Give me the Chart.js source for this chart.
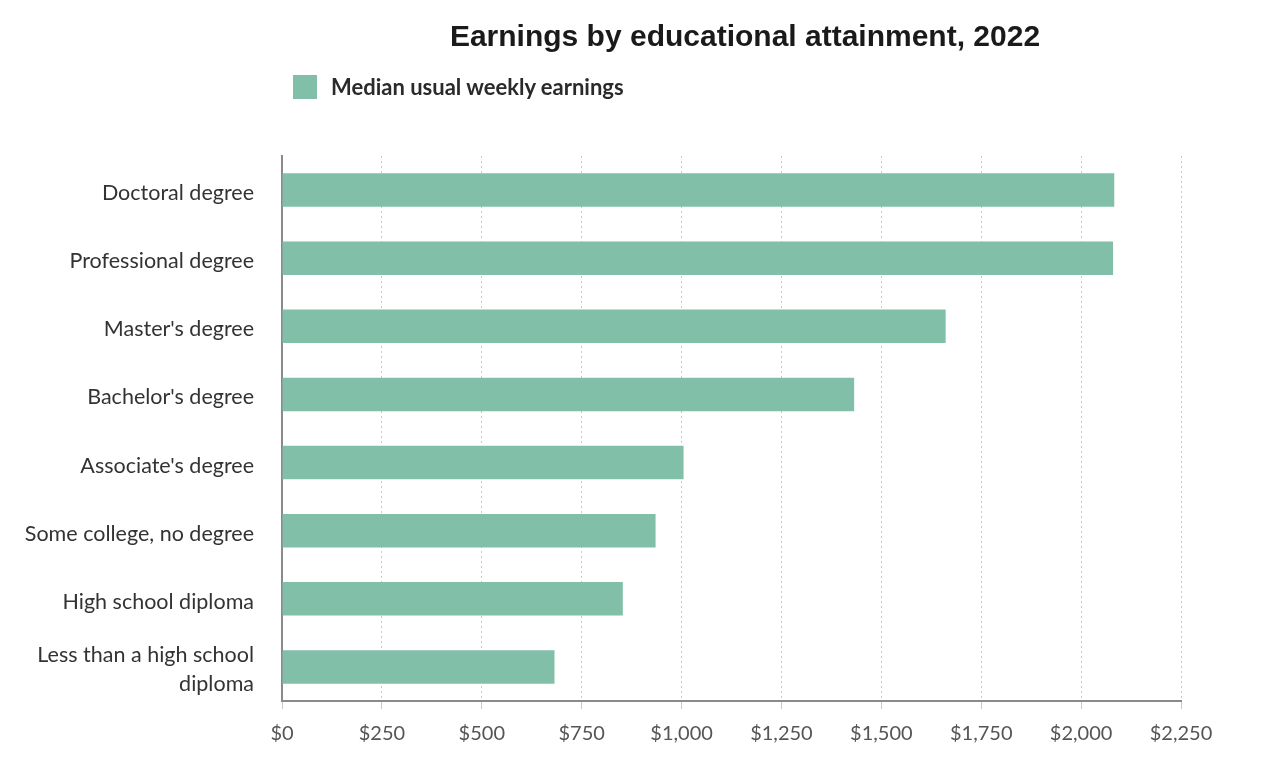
<!DOCTYPE html>
<html>
<head>
<meta charset="utf-8">
<script src="https://cdn.jsdelivr.net/npm/chart.js@4/dist/chart.umd.min.js"></script>
<style>
  body { margin: 0; background: #fff; }
  #wrap { position: relative; width: 1278px; height: 772px; }
  #title {
    position: absolute; left: 0; top: 19px; width: 1490px;
    text-align: center; font: bold 30px "Liberation Sans", Arial, sans-serif; color: #1a1a1a;
  }
  #legend {
    position: absolute; left: 293px; top: 73px; display: flex; align-items: center;
    font: bold 22px Lato, sans-serif; color: #2a2a2a;
  }
  #legend span.box { width: 24px; height: 24px; background: #82bfa8; margin-right: 14px; }
</style>
</head>
<body>
<div id="wrap">
  <canvas id="chart" width="1278" height="772"></canvas>
  <div id="title">Earnings by educational attainment, 2022</div>
  <div id="legend"><span class="box"></span>Median usual weekly earnings</div>
</div>
<script>
// data
const categories = [
  "Doctoral degree",
  "Professional degree",
  "Master's degree",
  "Bachelor's degree",
  "Associate's degree",
  "Some college, no degree",
  "High school diploma",
  ["Less than a high school", "diploma"]
];
const weeklyEarnings = [2083, 2080, 1661, 1432, 1005, 935, 853, 682];
const seriesName = "Median usual weekly earnings";
const xMax = 2250;
const xStep = 250;

const barColor = "#82bfa8";

new Chart(document.getElementById("chart").getContext("2d"), {
  type: "bar",
  data: {
    labels: categories,
    datasets: [
      {
        label: seriesName,
        data: weeklyEarnings,
        backgroundColor: barColor,
        borderWidth: 0,
        barPercentage: 0.49,
        categoryPercentage: 1,
      },
    ],
  },
  options: {
    indexAxis: "y",
    responsive: false,
    animation: false,
    layout: { padding: { left: 0, right: 97, top: 156, bottom: 0 } },
    plugins: {
      legend: { display: false },
      title: { display: false },
      tooltip: { enabled: false },
    },
    scales: {
      x: {
        min: 0,
        max: xMax,
        afterFit: (scale) => { scale.height = 71; },
        ticks: {
          stepSize: xStep,
          padding: 13,
          color: "#555",
          font: { family: "Lato", size: 20 },
          callback: (v) => "$" + v.toLocaleString("en-US"),
        },
        grid: {
          color: "#c8c8c8",
          lineWidth: 1,
          tickLength: 8,
        },
        border: { color: "#8a8a8a", width: 2, dash: [2, 3] },
      },
      y: {
        afterFit: (scale) => { scale.width = 282; },
        ticks: {
          padding: 28,
          labelOffset: 3,
          color: "#333",
          font: { family: "Lato", size: 21.5, lineHeight: 1.35 },
        },
        grid: { display: false, drawTicks: false },
        border: { color: "#8a8a8a", width: 2 },
      },
    },
  },
});
</script>
</body>
</html>
